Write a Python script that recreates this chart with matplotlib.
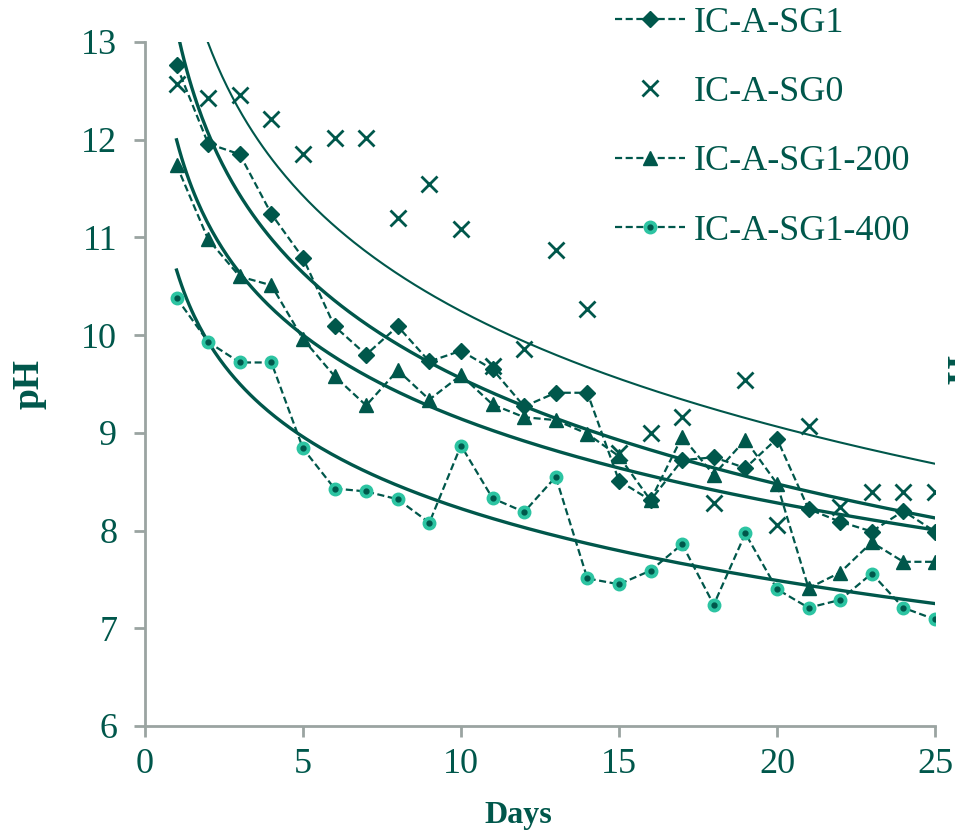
import numpy as np
import matplotlib
matplotlib.use("Agg")
import matplotlib.pyplot as plt
from matplotlib.legend_handler import HandlerTuple

# Daily pH readings for each mix
days = list(range(1, 26))
sg1 = [12.76, 11.96, 11.85, 11.24, 10.79, 10.09, 9.80, 10.09, 9.73, 9.84,
       9.65, 9.27, 9.41, 9.41, 8.51, 8.31, 8.72, 8.75, 8.64, 8.94,
       8.22, 8.09, 7.99, 8.20, 7.99]
sg0 = [12.57, 12.43, 12.46, 12.21, 11.85, 12.02, 12.02, 11.20, 11.55, 11.09,
       9.68, 9.86, 10.87, 10.27, 8.79, 9.00, 9.16, 8.28, 9.54, 8.06,
       9.07, 8.24, 8.39, 8.39, 8.39]
sg1_200 = [11.74, 10.98, 10.60, 10.51, 9.96, 9.58, 9.28, 9.64, 9.34, 9.59,
           9.29, 9.16, 9.13, 8.99, 8.76, 8.31, 8.96, 8.57, 8.93, 8.48,
           7.41, 7.57, 7.88, 7.68, 7.68]
sg1_400 = [10.38, 9.93, 9.72, 9.72, 8.84, 8.43, 8.40, 8.32, 8.08, 8.87,
           8.33, 8.19, 8.55, 7.51, 7.45, 7.59, 7.86, 7.24, 7.97, 7.40,
           7.21, 7.29, 7.56, 7.21, 7.09]
series_names = ["IC-A-SG1", "IC-A-SG0", "IC-A-SG1-200", "IC-A-SG1-400"]
x_ticks = [0, 5, 10, 15, 20, 25]
y_ticks = [6, 7, 8, 9, 10, 11, 12, 13]

DARK = "#00574B"
LIGHT = "#2CC4A2"
AXIS_GREY = "#9AA4A1"
SERIF = ["Liberation Serif", "DejaVu Serif"]

plt.rcParams["font.family"] = SERIF

fig = plt.figure(figsize=(9.55, 8.33), dpi=100)
ax = fig.add_axes([0.1518, 0.1285, 0.979 - 0.1518, 0.9496 - 0.1285])

x = np.array(days, dtype=float)
dash = (0, (3.2, 1.6))
LW = 1.6

h1, = ax.plot(x, sg1, linestyle=dash, lw=LW, color=DARK, marker="D", ms=8,
              mfc=DARK, mec=DARK, zorder=3)
h2, = ax.plot(x, sg0, linestyle="none", marker="x", ms=11, mew=2, color=DARK,
              zorder=3)
h3, = ax.plot(x, sg1_200, linestyle=dash, lw=LW, color=DARK, marker="^", ms=10,
              mfc=DARK, mec=DARK, zorder=3)
h4, = ax.plot(x, sg1_400, linestyle=dash, lw=LW, color=DARK, marker="o", ms=9,
              mfc=LIGHT, mec=LIGHT, zorder=3)
# dark centre dots on the round markers
h4c, = ax.plot(x, sg1_400, linestyle="none", marker="o", ms=3.5, color=DARK,
               zorder=4)

# logarithmic trend lines: y = a*ln(x) + b
xs = np.linspace(1, 25, 300)
for vals, lw in [(sg1, 2.4), (sg0, 1.5), (sg1_200, 2.4), (sg1_400, 2.4)]:
    a, b = np.polyfit(np.log(x), np.array(vals), 1)
    ax.plot(xs, a * np.log(xs) + b, color=DARK, lw=lw, zorder=2)

ax.set_xlim(0, 25)
ax.set_ylim(6, 13)
ax.set_xticks(x_ticks)
ax.set_yticks(y_ticks)
for side in ("top", "right"):
    ax.spines[side].set_visible(False)
for side in ("left", "bottom"):
    ax.spines[side].set_color(AXIS_GREY)
    ax.spines[side].set_linewidth(2)
ax.tick_params(axis="both", colors=AXIS_GREY, width=2, length=8,
               labelcolor=DARK, labelsize=26)
ax.tick_params(axis="x", pad=8)
ax.tick_params(axis="y", pad=12)

fig.text(518 / 955, 1 - 815 / 833, "Days", ha="center", va="center",
         fontsize=23, fontweight="bold", color=DARK)
ax.set_ylabel("pH", fontsize=27, fontweight="bold", color=DARK, labelpad=25)

leg = ax.legend([h1, h2, h3, (h4, h4c)], series_names,
                handler_map={tuple: HandlerTuple(ndivide=1, pad=0)},
                loc="upper left", bbox_to_anchor=(0.595, 1.052), frameon=False,
                fontsize=26, labelcolor=DARK, handlelength=1.95,
                handletextpad=0.22, labelspacing=1.0, borderaxespad=0,
                borderpad=0)

# edge of a neighbouring axis title
fig.text(0.991, 0.545, "pH", rotation=90, ha="left", va="center",
         fontsize=27, fontweight="bold", color=DARK)

fig.savefig("out.png", dpi=100)
